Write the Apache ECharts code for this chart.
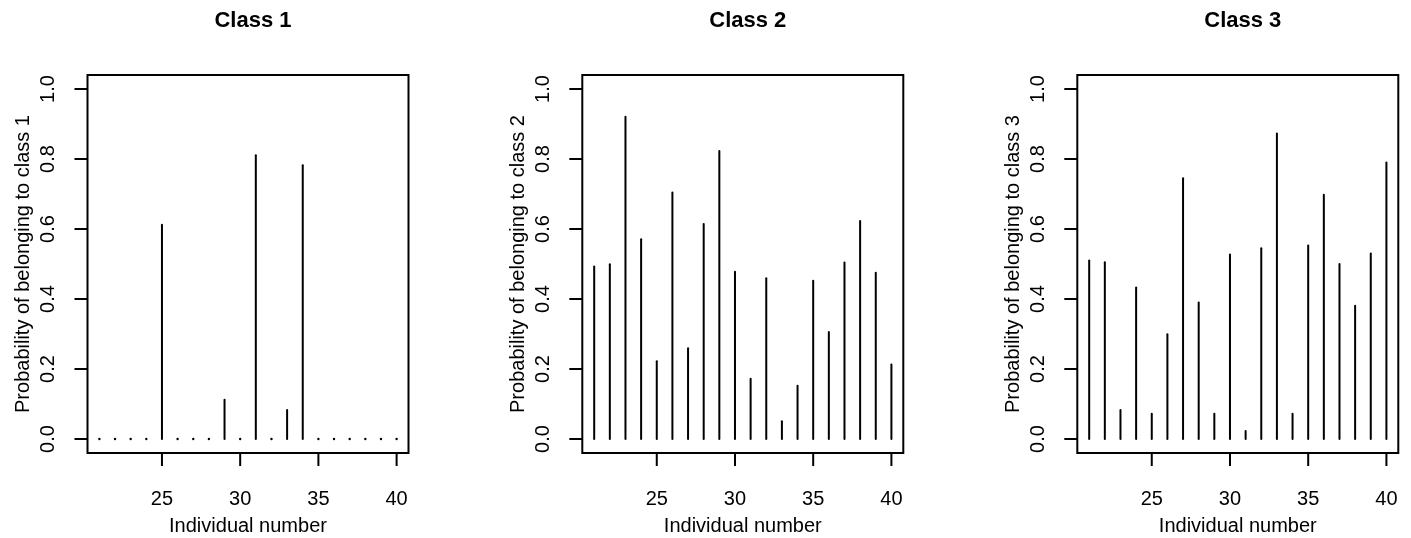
<!DOCTYPE html>
<html>
<head>
<meta charset="utf-8">
<script src="https://cdn.jsdelivr.net/npm/echarts@6/dist/echarts.min.js"></script>
<style>
  html, body { margin: 0; padding: 0; background: #fff; }
  #chart { width: 1411px; height: 538px; }
</style>
</head>
<body>
<div id="chart"></div>
<script>
// individuals and posterior probabilities per class
const individuals = [21, 22, 23, 24, 25, 26, 27, 28, 29, 30, 31, 32, 33, 34, 35, 36, 37, 38, 39, 40];
const class1 = [0, 0, 0, 0, 0.612, 0, 0, 0, 0.112, 0, 0.811, 0, 0.083, 0.782, 0, 0, 0, 0, 0, 0];
const class2 = [0.493, 0.499, 0.921, 0.571, 0.222, 0.704, 0.259, 0.614, 0.823, 0.478, 0.172, 0.459, 0.051, 0.152, 0.452, 0.306, 0.504, 0.623, 0.475, 0.213];
const class3 = [0.510, 0.505, 0.083, 0.433, 0.072, 0.299, 0.745, 0.390, 0.072, 0.527, 0.023, 0.545, 0.873, 0.072, 0.553, 0.698, 0.500, 0.381, 0.530, 0.790];
const xTicks = [25, 30, 35, 40];
const yTicks = [0, 0.2, 0.4, 0.6, 0.8, 1.0];
const panels = [
  { title: 'Class 1', ylab: 'Probability of belonging to class 1', values: class1 },
  { title: 'Class 2', ylab: 'Probability of belonging to class 2', values: class2 },
  { title: 'Class 3', ylab: 'Probability of belonging to class 3', values: class3 }
];

const FONT = '"Liberation Sans", Arial, Helvetica, sans-serif';
// plot box (R's usr region) and its pixel size
const X_MIN = 20.24, X_MAX = 40.76, Y_MIN = -0.04, Y_MAX = 1.04;
const boxLefts = [87.5, 582.3, 1077.3];
const boxTop = 75, boxW = 321, boxH = 378;
// grid is padded by the tick length so the outward ticks stay inside it
const PAD = 13;
const xPad = PAD * (X_MAX - X_MIN) / boxW;
const yPad = PAD * (Y_MAX - Y_MIN) / boxH;

const chart = echarts.init(document.getElementById('chart'));

// type = "h" style: vertical line from 0 to value, dot when zero
const drawStick = (params, api) => {
  const x = api.value(0), v = api.value(1);
  const p0 = api.coord([x, 0]);
  const p1 = api.coord([x, v]);
  if (v === 0) {
    return { type: 'circle', shape: { cx: p0[0], cy: p0[1], r: 1.2 }, style: { fill: '#000' } };
  }
  return {
    type: 'line',
    shape: { x1: p0[0], y1: p0[1], x2: p1[0], y2: p1[1] },
    style: { stroke: '#000', lineWidth: 2, lineCap: 'round' }
  };
};

// box round the plot region plus outward ticks
const drawFrame = (params, api) => {
  const tl = api.coord([X_MIN, Y_MAX]);
  const br = api.coord([X_MAX, Y_MIN]);
  const children = [{
    type: 'rect',
    shape: { x: tl[0], y: tl[1], width: br[0] - tl[0], height: br[1] - tl[1] },
    style: { fill: 'none', stroke: '#000', lineWidth: 2 }
  }];
  xTicks.forEach(v => {
    const a = api.coord([v, Y_MIN]), b = api.coord([v, Y_MIN - yPad]);
    children.push({ type: 'line', shape: { x1: a[0], y1: a[1], x2: b[0], y2: b[1] }, style: { stroke: '#000', lineWidth: 2 } });
  });
  yTicks.forEach(v => {
    const a = api.coord([X_MIN, v]), b = api.coord([X_MIN - xPad, v]);
    children.push({ type: 'line', shape: { x1: a[0], y1: a[1], x2: b[0], y2: b[1] }, style: { stroke: '#000', lineWidth: 2 } });
  });
  return { type: 'group', children };
};

chart.setOption({
  backgroundColor: '#fff',
  animation: false,
  title: panels.map((p, i) => ({
    text: p.title,
    left: boxLefts[i] + boxW / 2,
    top: 5,
    textAlign: 'center',
    textStyle: { fontFamily: FONT, fontSize: 22, fontWeight: 'bold', color: '#000' }
  })),
  grid: panels.map((p, i) => ({
    left: boxLefts[i] - PAD, top: boxTop - PAD, width: boxW + 2 * PAD, height: boxH + 2 * PAD,
    outerBoundsMode: 'none', containLabel: false, show: false
  })),
  xAxis: panels.map((p, i) => ({
    gridIndex: i,
    type: 'value',
    min: X_MIN - xPad,
    max: X_MAX + xPad,
    axisLine: { show: false, onZero: false },
    axisTick: { show: false },
    axisLabel: { customValues: xTicks, margin: 23, fontSize: 20, color: '#000', fontFamily: FONT },
    splitLine: { show: false },
    name: 'Individual number',
    nameLocation: 'middle',
    nameGap: 50,
    nameTextStyle: { fontSize: 20, color: '#000', fontFamily: FONT }
  })),
  yAxis: panels.map((p, i) => ({
    gridIndex: i,
    type: 'value',
    min: Y_MIN - yPad,
    max: Y_MAX + yPad,
    axisLine: { show: false, onZero: false },
    axisTick: { show: false },
    axisLabel: {
      customValues: yTicks, rotate: 90, margin: 16, fontSize: 20, color: '#000', fontFamily: FONT,
      formatter: v => v.toFixed(1)
    },
    splitLine: { show: false },
    name: p.ylab,
    nameLocation: 'middle',
    nameGap: 41,
    nameTextStyle: { fontSize: 20, color: '#000', fontFamily: FONT }
  })),
  series: panels.map((p, i) => ({
    type: 'custom',
    xAxisIndex: i,
    yAxisIndex: i,
    renderItem: drawStick,
    data: individuals.map((id, k) => [id, p.values[k]])
  })).concat(panels.map((p, i) => ({
    type: 'custom',
    xAxisIndex: i,
    yAxisIndex: i,
    renderItem: drawFrame,
    data: [[X_MIN, Y_MIN]]
  })))
});
</script>
</body>
</html>
